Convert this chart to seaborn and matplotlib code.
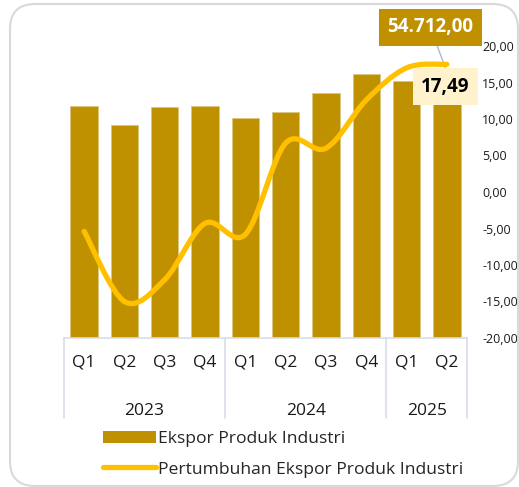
import numpy as np
import pandas as pd
import seaborn as sns
import matplotlib.pyplot as plt
from matplotlib.path import Path
from matplotlib.patches import PathPatch, FancyBboxPatch, Patch
from matplotlib.lines import Line2D
import matplotlib.transforms as mtransforms

# data
tahun = ["2023", "2023", "2023", "2023", "2024", "2024", "2024", "2024", "2025", "2025"]
kuartal = ["Q1", "Q2", "Q3", "Q4", "Q1", "Q2", "Q3", "Q4", "Q1", "Q2"]
ekspor = [47630, 43710, 47430, 47630, 45160, 46390, 50310, 54230, 52790, 54712]
pertumbuhan = [-5.4, -15.0, -12.0, -4.3, -5.8, 6.7, 6.0, 12.6, 17.0, 17.49]

warna_bar = "#BF9000"
warna_garis = "#FFC000"

sns.set_style("white")
plt.rcParams["font.family"] = ["Open Sans", "DejaVu Sans"]

df = pd.DataFrame({"kunci": [f"{t} {q}" for t, q in zip(tahun, kuartal)],
                   "ekspor": ekspor})

fig = plt.figure(figsize=(5.19, 4.87), dpi=100)
ax = fig.add_axes([64 / 519, 149 / 487, 403 / 519, 292 / 487])

sns.barplot(data=df, x="kunci", y="ekspor", color=warna_bar, saturation=1,
            width=0.68, edgecolor="#d9c680", linewidth=0.6, ax=ax)
ax.set_ylim(0, 60000)
ax.set_xlim(-0.5, len(df) - 0.5)
ax.set_xlabel("")
ax.set_ylabel("")
ax.set_yticks([])
for s in ["left", "right", "top"]:
    ax.spines[s].set_visible(False)
ax.spines["bottom"].set_color("#d9dde6")
ax.spines["bottom"].set_linewidth(1.2)
ax.set_xticks(range(len(df)))
ax.set_xticklabels(kuartal, fontsize=12.5, color="#1a1a1a")
ax.tick_params(axis="x", length=0, pad=12)

# year row and group separators
trans = mtransforms.blended_transform_factory(ax.transData, ax.transAxes)
grup = pd.Series(range(len(tahun)), index=tahun).groupby(level=0)
batas = [-0.5]
for th, idx in grup:
    ax.text(idx.mean(), -0.25, th, transform=trans, ha="center", va="center",
            fontsize=12.5, color="#1a1a1a")
    batas.append(idx.max() + 0.5)
for b in batas:
    ax.plot([b, b], [0, -0.274], transform=trans, color="#d9dde6", lw=1.2,
            clip_on=False)

# growth line (smoothed, secondary axis)
ax2 = ax.twinx()
ax2.set_ylim(-20, 20)
ax2.set_yticks(np.arange(-20, 21, 5))
ax2.set_yticklabels([f"{v:.2f}".replace(".", ",") for v in np.arange(-20, 21, 5)],
                    fontsize=9, color="#1a1a1a")
ax2.tick_params(axis="y", length=0, pad=11)
for s in ax2.spines.values():
    s.set_visible(False)

x = np.arange(len(pertumbuhan), dtype=float)
y = np.array(pertumbuhan, dtype=float)
px = np.concatenate([[x[0]], x, [x[-1]]])
py = np.concatenate([[y[0]], y, [y[-1]]])
verts = [(x[0], y[0])]
codes = [Path.MOVETO]
for i in range(1, len(px) - 2):
    c1 = (px[i] + (px[i + 1] - px[i - 1]) / 6, py[i] + (py[i + 1] - py[i - 1]) / 6)
    c2 = (px[i + 1] - (px[i + 2] - px[i]) / 6, py[i + 1] - (py[i + 2] - py[i]) / 6)
    verts += [c1, c2, (px[i + 1], py[i + 1])]
    codes += [Path.CURVE4] * 3
ax2.add_patch(PathPatch(Path(verts, codes), fill=False, edgecolor=warna_garis,
                        lw=3.8, capstyle="round", joinstyle="round", zorder=3))

# data labels
ax.annotate(f"{ekspor[-1]:,.2f}".replace(",", "X").replace(".", ",").replace("X", "."),
            xy=(len(ekspor) - 1, ekspor[-1]), xytext=(-12, 32),
            textcoords="offset points", ha="center", va="center",
            fontsize=13.5, fontweight="bold", color="white",
            bbox=dict(boxstyle="square,pad=0.45", fc=warna_bar, ec="none"),
            arrowprops=dict(arrowstyle="-", color="#adb9ca", lw=1,
                            shrinkA=0, shrinkB=3))
ax2.annotate(f"{pertumbuhan[-1]:.2f}".replace(".", ","),
             xy=(len(pertumbuhan) - 1, pertumbuhan[-1]), xytext=(-1, -16),
             textcoords="offset points", ha="center", va="center",
             fontsize=13.5, fontweight="bold", color="black", zorder=5,
             bbox=dict(boxstyle="square,pad=0.45", fc="#FFF2CC", ec="none"))

# legend
handles = [Patch(facecolor=warna_bar, edgecolor="none"),
           Line2D([0], [0], color=warna_garis, lw=3.8, solid_capstyle="round")]
fig.legend(handles, ["Ekspor Produk Industri", "Pertumbuhan Ekspor Produk Industri"],
           loc="upper left", bbox_to_anchor=(103 / 519, 1 - 431 / 487),
           frameon=False, fontsize=12.6, handlelength=3.0, handleheight=0.7,
           handletextpad=0.15, labelspacing=0.8, borderpad=0, borderaxespad=0)

# rounded chart border
fig.patches.append(FancyBboxPatch((0.10, 0.01), 5.08, 4.82,
                                  boxstyle="round,pad=0,rounding_size=0.25",
                                  transform=fig.dpi_scale_trans, fill=False,
                                  ec="#d9d9d9", lw=1.5))

fig.savefig("out.png", dpi=100)
